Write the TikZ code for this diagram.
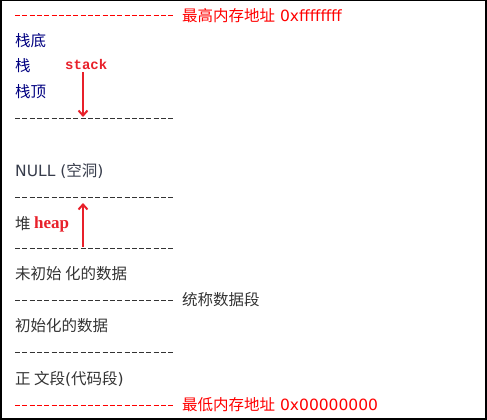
\documentclass[tikz,border=0pt]{standalone}
\usepackage{fontspec}
\setmainfont{DejaVu Sans}
\newfontfamily\cjk{Noto Sans CJK SC}
\newfontfamily\monofnt{Liberation Mono}
\newfontfamily\seriffnt{Liberation Serif}
\usetikzlibrary{arrows.meta,positioning}
\definecolor{memred}{RGB}{255,0,0}
\definecolor{arrred}{RGB}{232,32,42}
\definecolor{stkblue}{RGB}{0,0,128}
\definecolor{txtgray}{RGB}{51,51,51}
\definecolor{nullgray}{RGB}{55,60,75}

\begin{document}
\begin{tikzpicture}[x=1pt, y=-1pt,
    every node/.style={inner sep=0pt, anchor=west, font=\fontsize{15.5}{18}\selectfont},
    divline/.style={txtgray, line width=1pt, dash pattern=on 5pt off 2.3pt},
    memtxt/.style={text=txtgray},
    redarr/.style={-{Straight Barb[length=5pt, width=9pt]}, draw=arrred, line width=2pt}]
\useasboundingbox (0,0) rectangle (487,420);
\draw[line width=1.5pt] (0.75,0.75) rectangle (486,419);

% Top address
\draw[divline, memred] (15,16) -- (175,16);
\node[text=memred] (hiaddr) at (182,16) {{\cjk 最高内存地址} 0xffffffff};

% Stack
\node[text=stkblue] (stkbot) at (15,41) {\cjk 栈底};
\node[text=stkblue] (stk) at (15,66) {\cjk 栈};
\node[text=stkblue] (stktop) at (15,92) {\cjk 栈顶};
\node[text=arrred, font=\fontsize{14}{16}\monofnt\bfseries] (stklbl) at (65,64) {stack};
\draw[divline] (15,118) -- (175,118);
\coordinate (stkend) at (83,117);
\draw[redarr] (stkend |- stklbl.south) ++(0,3) -- (stkend);

% Gap
\node[text=nullgray] (gap) at (15,171) {NULL ({\cjk 空洞})};
\draw[divline] (15,197) -- (175,197);

% Heap
\node[memtxt] (heap) at (15,224) {\cjk 堆};
\node[text=arrred, font=\fontsize{17}{19}\seriffnt\bfseries, right=3pt of heap] (heaplbl) {heap};
\draw[divline] (15,248) -- (175,248);
\coordinate (heapbeg) at (83,247);
\coordinate (heapend) at (83,203);
\draw[redarr] (heapbeg) -- (heapend);

% Data
\node[memtxt] (bss) at (15,274) {\cjk 未初始 化的数据};
\draw[divline] (15,300) -- (175,300);
\node[memtxt] (datasum) at (182,300) {\cjk 统称数据段};
\node[memtxt] (data) at (15,326) {\cjk 初始化的数据};
\draw[divline] (15,352) -- (175,352);

% Text
\node[memtxt] (text) at (15,379) {{\cjk 正 文段}({\cjk 代码段})};

% Bottom address
\draw[divline, memred] (15,405) -- (175,405);
\node[text=memred] (loaddr) at (182,405) {{\cjk 最低内存地址} 0x00000000};
\end{tikzpicture}
\end{document}
